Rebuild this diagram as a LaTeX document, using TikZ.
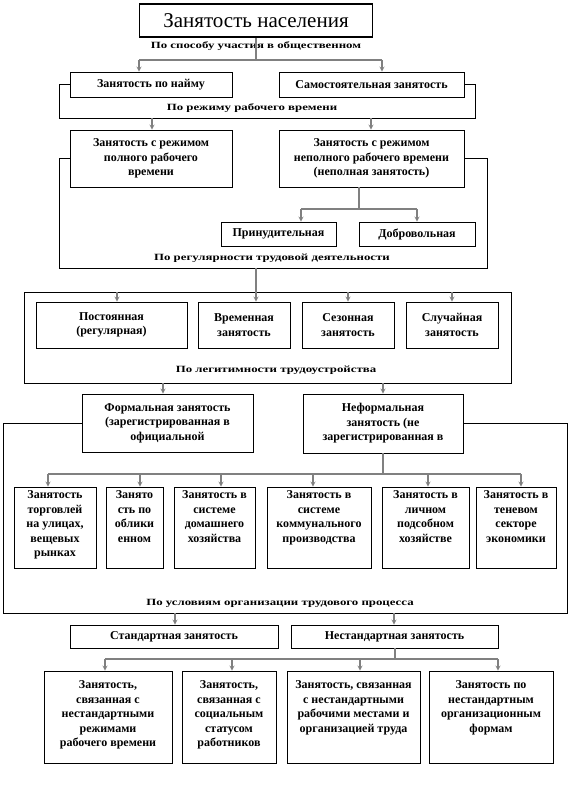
\documentclass[tikz,border=0pt]{standalone}
\usepackage{fontspec}
\setmainfont{Liberation Serif}
\newfontfamily\widefont[FakeStretch=1.35]{Liberation Serif}
\newcommand{\cell}[4][c]{\parbox[c][#3][#1]{#2}{\centering #4}}
\tikzset{
	box/.style={draw, line width=0.8pt, inner sep=0pt, font=\bfseries\fontsize{12}{14.5}\selectfont},
	link/.style={draw=gray, line width=1.2pt},
	arr/.style={link, -stealth},
	frame/.style={draw, line width=0.8pt},
	note/.style={inner sep=0pt, font=\widefont\bfseries\fontsize{9.5}{11}\selectfont},
}

\begin{document}
\begin{tikzpicture}[x=1pt, y=-1pt]
		\useasboundingbox (0,0) rectangle (569,800);
		\node[draw, line width=1.8pt, inner sep=0pt, minimum width=233, minimum height=33, font=\fontsize{21}{24}\selectfont] (title) at (256,20.5) {Занятость населения};
		\node[note] (l1) at (256,46) {По способу участия в общественном};
		\node[box] (hire) at (151,84.5) {\cell{162pt}{25pt}{Занятость по найму}};
		\node[box] (self) at (371.5,84.5) {\cell{185pt}{25pt}{Самостоятельная занятость}};
		\node[note] (l2) at (252,108) {По режиму рабочего времени};
		\node[box] (full) at (151,158.5) {\cell{162pt}{57pt}{Занятость с режимом\\полного рабочего\\времени}};
		\node[box] (part) at (371.5,158.5) {\cell{185pt}{57pt}{Занятость с режимом\\неполного рабочего времени\\(неполная занятость)}};
		\node[box] (forced) at (278.5,234) {\cell{115pt}{24pt}{Принудительная}};
		\node[box] (vol) at (417,234) {\cell{116pt}{24pt}{Добровольная}};
		\node[note] (l3) at (272,258) {По регулярности трудовой деятельности};
		\node[frame, inner sep=0pt, minimum width=487, minimum height=91] (fr3) at (267.5,337.5) {};
		\node[box] (perm) at (111.5,325) {\cell{151pt}{46pt}{Постоянная\\(регулярная)}};
		\node[box] (temp) at (244,325) {\cell{92pt}{46pt}{Временная\\занятость}};
		\node[box] (seas) at (348,325) {\cell{92pt}{46pt}{Сезонная\\занятость}};
		\node[box] (rand) at (452,325) {\cell{92pt}{46pt}{Случайная\\занятость}};
		\node[note] (l4) at (276,370) {По легитимности трудоустройства};
		\node[box] (formal) at (167.5,423) {\cell{171pt}{58pt}{Формальная занятость\\(зарегистрированная в\\официальной}};
		\node[box] (informal) at (383,423.5) {\cell{160pt}{59pt}{Неформальная\\занятость (не\\зарегистрированная в}};
		\node[box] (trade) at (55,527.5) {\cell[t]{82pt}{81pt}{\vspace{4pt}Занятость\\торговлей\\на улицах,\\вещевых\\рынках}};
		\node[box] (cloud) at (134.5,527.5) {\cell[t]{57pt}{81pt}{\vspace{4pt}Занято\\сть по\\облики\\енном}};
		\node[box] (home) at (214.5,527.5) {\cell[t]{81pt}{81pt}{\vspace{4pt}Занятость в\\системе\\домашнего\\хозяйства}};
		\node[box] (comm) at (319,527.5) {\cell[t]{104pt}{81pt}{\vspace{4pt}Занятость в\\системе\\коммунального\\производства}};
		\node[box] (plot) at (425.5,527.5) {\cell[t]{87pt}{81pt}{\vspace{4pt}Занятость в\\личном\\подсобном\\хозяйстве}};
		\node[box] (shadow) at (516,527.5) {\cell[t]{80pt}{81pt}{\vspace{4pt}Занятость в\\теневом\\секторе\\экономики}};
		\node[note] (l5) at (280,603) {По условиям организации трудового процесса};
		\node[box] (std) at (174,636.5) {\cell{208pt}{23pt}{Стандартная занятость}};
		\node[box] (nonstd) at (394.5,636.5) {\cell{207pt}{23pt}{Нестандартная занятость}};
		\node[box] (regime) at (108,717) {\cell[t]{128pt}{92pt}{\vspace{10pt}Занятость,\\связанная с\\нестандартными\\режимами\\рабочего времени}};
		\node[box] (status) at (229,717) {\cell[t]{94pt}{92pt}{\vspace{10pt}Занятость,\\связанная с\\социальным\\статусом\\работников}};
		\node[box] (place) at (353.5,717) {\cell[t]{133pt}{92pt}{\vspace{10pt}Занятость, связанная\\с нестандартными\\рабочими местами и\\организацией труда}};
		\node[box] (forms) at (491,717) {\cell[t]{124pt}{92pt}{\vspace{10pt}Занятость по\\нестандартным\\организационным\\формам}};

		\coordinate (b1) at (256,60);
		\coordinate (b1l) at (139,60);
		\coordinate (b1r) at (382,60);
		\draw[link] (title) -- (b1);
		\draw[link] (b1l) -- (b1r);
		\draw[arr] (b1l) -- (b1l |- hire.north);
		\draw[arr] (b1r) -- (b1r |- self.north);

		\coordinate (r1a) at (59,118);
		\coordinate (r1b) at (475,118);
		\coordinate (r1l) at (152,118);
		\coordinate (r1r) at (371,118);
		\draw[frame] (hire.west) -| (r1a) -- (r1b) |- (self.east);
		\draw[arr] (r1l) -- (r1l |- full.north);
		\draw[arr] (r1r) -- (r1r |- part.north);

		\coordinate (p1) at (359,209);
		\coordinate (p1l) at (301,209);
		\coordinate (p1r) at (417,209);
		\draw[link] (part.south -| p1) -- (p1);
		\draw[link] (p1l) -- (p1r);
		\draw[arr] (p1l) -- (p1l |- forced.north);
		\draw[arr] (p1r) -- (p1r |- vol.north);

		\coordinate (r2a) at (59,268);
		\coordinate (r2b) at (487,268);
		\coordinate (r2m) at (256,268);
		\draw[frame] (full.west) -| (r2a) -- (r2b) |- (part.east);
		\draw[arr] (r2m) -- (r2m |- temp.north);

		\coordinate (f3a) at (117,292);
		\coordinate (f3b) at (348,292);
		\coordinate (f3c) at (452,292);
		\draw[arr] (f3a) -- (f3a |- perm.north);
		\draw[arr] (f3b) -- (f3b |- seas.north);
		\draw[arr] (f3c) -- (f3c |- rand.north);

		\coordinate (f3l) at (163,383);
		\coordinate (f3r) at (383,383);
		\draw[arr] (f3l) -- (f3l |- formal.north);
		\draw[arr] (f3r) -- (f3r |- informal.north);

		\coordinate (r5a) at (3,613);
		\coordinate (r5b) at (567,613);
		\draw[frame] (formal.west) -| (r5a) -- (r5b) |- (informal.east);

		\coordinate (s1) at (383,474);
		\coordinate (s1a) at (48,474);
		\coordinate (s1b) at (140,474);
		\coordinate (s1c) at (221,474);
		\coordinate (s1d) at (313,474);
		\coordinate (s1e) at (428,474);
		\coordinate (s1f) at (521,474);
		\draw[link] (informal) -- (s1);
		\draw[link] (s1a) -- (s1f);
		\draw[arr] (s1a) -- (s1a |- trade.north);
		\draw[arr] (s1b) -- (s1b |- cloud.north);
		\draw[arr] (s1c) -- (s1c |- home.north);
		\draw[arr] (s1d) -- (s1d |- comm.north);
		\draw[arr] (s1e) -- (s1e |- plot.north);
		\draw[arr] (s1f) -- (s1f |- shadow.north);

		\coordinate (r5l) at (175,613);
		\coordinate (r5r) at (394,613);
		\draw[arr] (r5l) -- (r5l |- std.north);
		\draw[arr] (r5r) -- (r5r |- nonstd.north);

		\coordinate (t1) at (395,659);
		\coordinate (t1a) at (105,659);
		\coordinate (t1b) at (232,659);
		\coordinate (t1c) at (360,659);
		\coordinate (t1d) at (498,659);
		\draw[link] (nonstd.south -| t1) -- (t1);
		\draw[link] (t1a) -- (t1d);
		\draw[arr] (t1a) -- (t1a |- regime.north);
		\draw[arr] (t1b) -- (t1b |- status.north);
		\draw[arr] (t1c) -- (t1c |- place.north);
		\draw[arr] (t1d) -- (t1d |- forms.north);
	\end{tikzpicture}
\end{document}
